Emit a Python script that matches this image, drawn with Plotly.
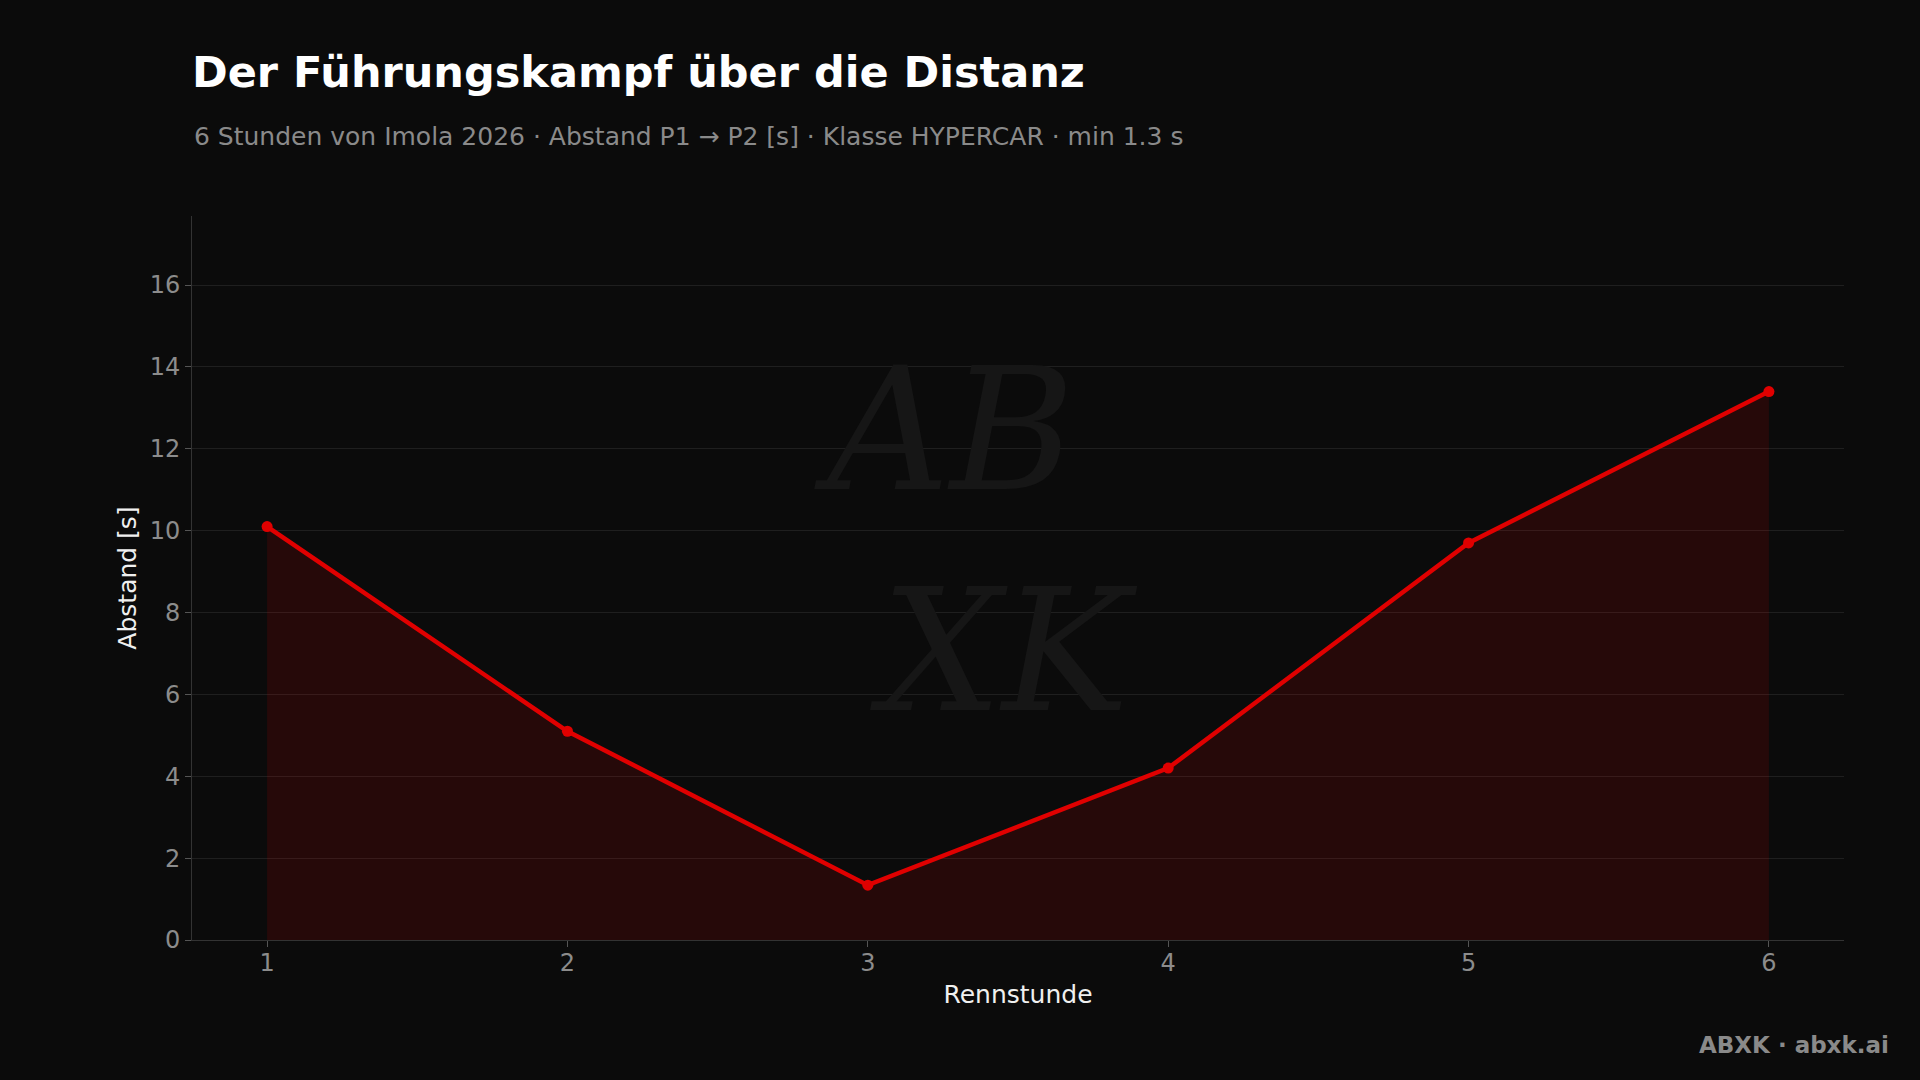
import plotly.graph_objects as go

# Data
hours = [1, 2, 3, 4, 5, 6]
gap_s = [10.1, 5.1, 1.34, 4.2, 9.7, 13.4]
y_ticks = [0, 2, 4, 6, 8, 10, 12, 14, 16]

title_text = "Der Führungskampf über die Distanz"
subtitle_text = "6 Stunden von Imola 2026 · Abstand P1 → P2 [s] · Klasse HYPERCAR · min 1.3 s"
footer_text = "ABXK · abxk.ai"

BG = "#0b0b0b"
RED = "#e00000"
FONT = "DejaVu Sans"

fig = go.Figure()
fig.add_trace(go.Scatter(
    x=hours, y=gap_s,
    mode="lines+markers",
    line=dict(color=RED, width=4.5),
    marker=dict(color=RED, size=11),
    fill="tozeroy",
    fillcolor="rgba(224,0,0,0.13)",
    showlegend=False,
))

fig.update_layout(
    width=1920, height=1080,
    paper_bgcolor=BG, plot_bgcolor=BG,
    margin=dict(l=192, r=76, t=216, b=140),
    font=dict(family=FONT, color="#8c8c8c", size=24),
    title=dict(
        text=f"<b>{title_text}</b>",
        font=dict(family=FONT, size=43, color="#ffffff"),
        xref="paper", x=0, xanchor="left",
        yref="container", y=1 - 72 / 1080, yanchor="middle",
    ),
    xaxis=dict(
        range=[0.75, 6.25],
        tickvals=hours,
        showgrid=False,
        zeroline=False,
        showline=True, linecolor="#333333", linewidth=1,
        ticks="outside", ticklen=6, tickcolor="#555555",
        ticklabelstandoff=-5,
        tickfont=dict(size=24, color="#8c8c8c"),
        title=dict(text="Rennstunde", font=dict(size=25, color="#f0f0f0"), standoff=9),
    ),
    yaxis=dict(
        range=[0, max(gap_s) * 1.32],
        tickvals=y_ticks,
        showgrid=True, gridcolor="#1f1f1f", gridwidth=1,
        zeroline=False,
        showline=True, linecolor="#333333", linewidth=1,
        ticks="outside", ticklen=6, tickcolor="#555555",
        tickfont=dict(size=24, color="#8c8c8c"),
        title=dict(text="Abstand [s]", font=dict(size=25, color="#f0f0f0"), standoff=5),
    ),
    annotations=[
        dict(
            text=subtitle_text, xref="paper", yref="paper",
            x=0, y=(940 - 137) / 724, xanchor="left", yanchor="middle",
            showarrow=False, font=dict(family=FONT, size=25, color="#8a8a8a"),
        ),
        dict(
            text=f"<b>{footer_text}</b>", xref="paper", yref="paper",
            x=(1891 - 192) / 1652, y=(940 - 1045) / 724, xanchor="right", yanchor="middle",
            showarrow=False, font=dict(family=FONT, size=23, color="#8a8a8a"),
        ),
        dict(
            text="<i>AB<br>  XK</i>", xref="paper", yref="paper",
            x=(955 - 192) / 1652, y=(940 - 540) / 724, xanchor="center", yanchor="middle",
            showarrow=False, font=dict(family="DejaVu Serif", size=170, color="#161616"),
        ),
    ],
)

fig.write_html(
    "out.html",
    config={"displayModeBar": False},
    post_script="document.body.style.margin='0';document.body.style.background='#0b0b0b';",
)
